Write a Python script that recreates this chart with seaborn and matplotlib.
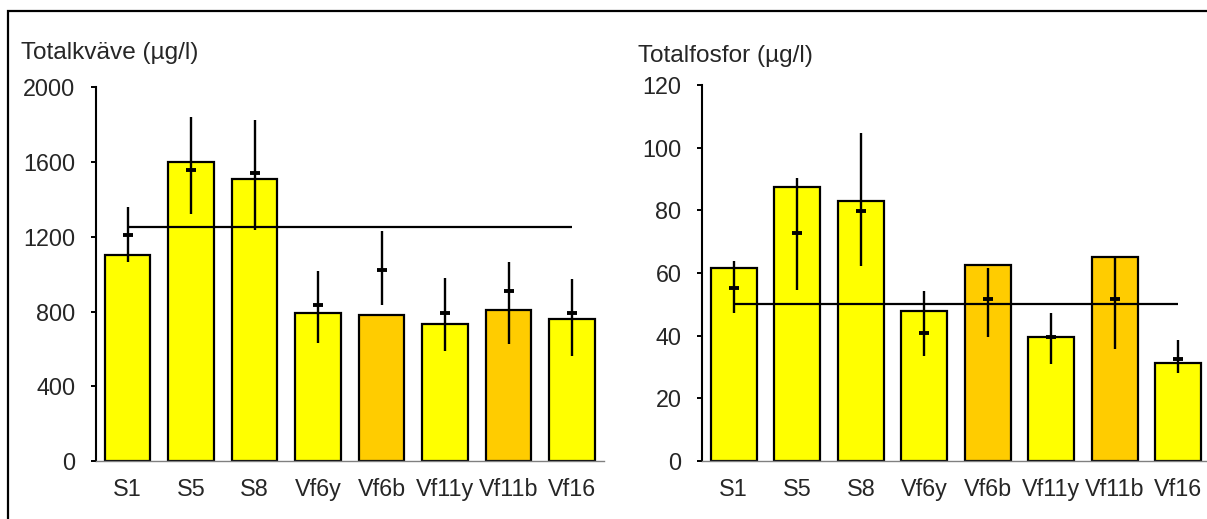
import numpy as np
import matplotlib
matplotlib.use("Agg")
import matplotlib.pyplot as plt
from matplotlib.patches import Rectangle
import seaborn as sns

# Sampling stations
stations = ["S1", "S5", "S8", "Vf6y", "Vf6b", "Vf11y", "Vf11b", "Vf16"]
bar_colors = ["#FFFF00", "#FFFF00", "#FFFF00", "#FFFF00", "#FFCC00",
              "#FFFF00", "#FFCC00", "#FFFF00"]

# Total nitrogen (µg/l)
n_bar = [1105, 1600, 1510, 790, 780, 735, 810, 760]
n_mid = [1210, 1555, 1542, 833, 1020, 791, 909, 791]
n_low = [1066, 1322, 1234, 633, 836, 588, 626, 563]
n_high = [1362, 1841, 1825, 1018, 1230, 982, 1064, 972]
n_ref = 1250
n_ticks = [0, 400, 800, 1200, 1600, 2000]

# Total phosphorus (µg/l)
p_bar = [61.5, 87.3, 83.0, 47.8, 62.5, 39.7, 65.0, 31.3]
p_mid = [55.1, 72.7, 79.9, 40.8, 51.7, 39.5, 51.6, 32.5]
p_low = [47.1, 54.6, 62.3, 33.6, 39.7, 31.0, 35.6, 28.2]
p_high = [63.7, 90.2, 104.7, 54.3, 61.5, 47.2, 64.9, 38.7]
p_ref = 50
p_ticks = [0, 20, 40, 60, 80, 100, 120]

sns.set_style("white")
plt.rcParams["font.family"] = ["Liberation Sans", "DejaVu Sans"]
FS = 16.8
TITLE_FS = 17.6

W, H = 1207, 519
fig = plt.figure(figsize=(W / 100, H / 100), dpi=100)
fig.patch.set_facecolor("white")


def panel(rect, bars, mid, low, high, ref, ticks, title, title_xy):
    ax = fig.add_axes(rect)
    sns.barplot(x=stations, y=bars, hue=stations, palette=bar_colors,
                legend=False, saturation=1, width=0.717,
                edgecolor="black", linewidth=1.6, ax=ax, zorder=2)
    pos = np.arange(len(stations))
    ax.hlines(ref, pos[0], pos[-1], color="black", lw=1.6, zorder=3)
    ax.vlines(pos, low, high, color="black", lw=1.7, zorder=4)
    ax.plot(pos, mid, ls="none", marker="_", ms=7.5, mew=2.8,
            color="black", zorder=5)
    ax.set_xlim(-0.5, len(stations) - 0.5)
    ax.set_ylim(ticks[0], ticks[-1])
    ax.set_yticks(ticks)
    ax.set_xlabel("")
    ax.set_ylabel("")
    for s in ("top", "right"):
        ax.spines[s].set_visible(False)
    ax.spines["left"].set_color("black")
    ax.spines["left"].set_linewidth(1.5)
    ax.spines["bottom"].set_color("#808080")
    ax.spines["bottom"].set_linewidth(1.0)
    ax.tick_params(axis="y", direction="out", length=3.8, width=1.4,
                   color="black", pad=11, labelsize=FS, left=True)
    ax.tick_params(axis="x", length=0, pad=12, labelsize=FS, bottom=False)
    ax.set_facecolor("white")
    fig.text(title_xy[0] / W, 1 - title_xy[1] / H, title, fontsize=TITLE_FS,
             va="baseline", ha="left")
    return ax


panel([95.75 / W, 58 / H, 508 / W, 373.7 / H], n_bar, n_mid, n_low, n_high,
      n_ref, n_ticks, "Totalkväve (µg/l)", (21, 59.5))
panel([702 / W, 58 / H, 508 / W, 376 / H], p_bar, p_mid, p_low, p_high,
      p_ref, p_ticks, "Totalfosfor (µg/l)", (638, 62))

# Outer frame around both panels
fig.add_artist(Rectangle((8 / W, -0.2), 1.5, 1.2 - 11 / H,
                         transform=fig.transFigure, fill=False,
                         edgecolor="black", lw=1.6))

fig.savefig("out.png", dpi=100)
